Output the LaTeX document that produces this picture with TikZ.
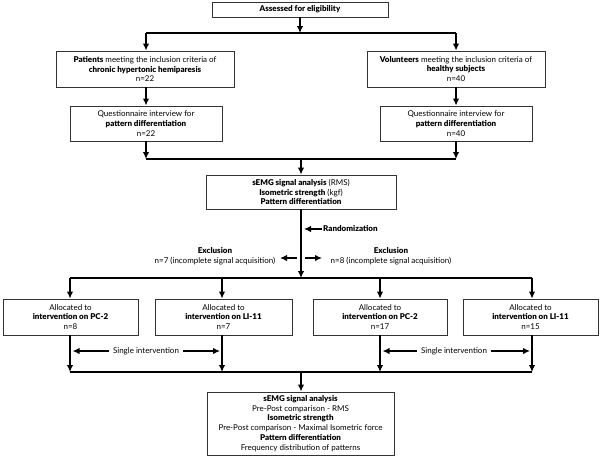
\documentclass[tikz,border=0pt]{standalone}
\usepackage{fontspec}
\setmainfont{Lato}[BoldFont={Lato Black}]
\usetikzlibrary{arrows.meta}
\begin{document}
\begin{tikzpicture}[x=1pt,y=-1pt,
  box/.style={draw=black!80,line width=0.8pt,align=center,inner sep=0pt,
    font=\fontsize{8}{9.7}\selectfont},
  conn/.style={line width=1.7pt},
  arr/.style={line width=1.7pt,-{Latex[length=7pt,width=6.5pt]}},
  lbl/.style={align=center,inner sep=1pt,font=\fontsize{8}{9.7}\selectfont}]
\useasboundingbox (0,0) rectangle (600,456);
\fill[white] (0,0) rectangle (600,456);
% boxes
\node[box,minimum width=176pt,minimum height=15pt] (top) at (300,9.5) {\textbf{Assessed for eligibility}};
\node[box,minimum width=178pt,minimum height=36pt] (pat) at (145,69) {\textbf{Patients} meeting the inclusion criteria of\\\textbf{chronic hypertonic hemiparesis}\\n=22};
\node[box,minimum width=178pt,minimum height=36pt] (vol) at (456,69) {\textbf{Volunteers} meeting the inclusion criteria of\\\textbf{healthy subjects}\\n=40};
\node[box,minimum width=152pt,minimum height=35pt] (q1) at (146,123.5) {Questionnaire interview for\\\textbf{pattern differentiation}\\n=22};
\node[box,minimum width=152pt,minimum height=35pt] (q2) at (456,123.5) {Questionnaire interview for\\\textbf{pattern differentiation}\\n=40};
\node[box,minimum width=190pt,minimum height=34pt] (semg) at (301,192) {\textbf{sEMG signal analysis} (RMS)\\\textbf{Isometric strength} (kgf)\\\textbf{Pattern differentiation}};
\node[box,minimum width=135pt,minimum height=36pt] (b1) at (70.5,317) {Allocated to\\\textbf{intervention on PC-2}\\n=8};
\node[box,minimum width=137pt,minimum height=36pt] (b2) at (223.5,317) {Allocated to\\\textbf{intervention on LI-11}\\n=7};
\node[box,minimum width=134pt,minimum height=36pt] (b3) at (380,317) {Allocated to\\\textbf{intervention on PC-2}\\n=17};
\node[box,minimum width=135pt,minimum height=36pt] (b4) at (530.5,317) {Allocated to\\\textbf{intervention on LI-11}\\n=15};
\node[box,minimum width=187pt,minimum height=63pt] (fin) at (300.5,423.5) {\textbf{sEMG signal analysis}\\Pre-Post comparison - RMS\\\textbf{Isometric strength}\\Pre-Post comparison - Maximal Isometric force\\\textbf{Pattern differentiation}\\Frequency distribution of patterns};
% junction coordinates
\coordinate (j1) at (300,33);
\coordinate (j1l) at (146,33);
\coordinate (j1r) at (456,33);
\coordinate (j2l) at (146,159);
\coordinate (j2r) at (456,159);
\coordinate (j2c) at (301,159);
\coordinate (j3c) at (301,278);
\coordinate (j3a) at (70,278);
\coordinate (j3b) at (222,278);
\coordinate (j3d) at (380,278);
\coordinate (j3e) at (532,278);
\coordinate (j4a) at (70,372);
\coordinate (j4b) at (222,372);
\coordinate (j4d) at (380,372);
\coordinate (j4e) at (532,372);
\coordinate (j4c) at (301,372);
% top part
\draw[arr] (top.south) -- (j1);
\draw[conn] (j1l) -- (j1r);
\draw[arr] (j1l) -- (pat.north -| j1l);
\draw[arr] (j1r) -- (vol.north -| j1r);
\draw[arr] (pat.south -| j1l) -- (q1.north -| j1l);
\draw[arr] (vol.south -| j1r) -- (q2.north -| j1r);
\draw[arr] (q1.south -| j2l) -- (j2l);
\draw[arr] (q2.south -| j2r) -- (j2r);
\draw[conn] (j2l) -- (j2r);
\draw[arr] (j2c) -- (semg.north -| j2c);
% randomization
\draw[arr] (semg.south -| j3c) -- (j3c);
\node[lbl,anchor=west] (rand) at (322,229) {\textbf{Randomization}};
\draw[arr] (rand.west) -- (304,229);
\coordinate (exl) at (297,258);
\coordinate (exr) at (305,258);
\draw[arr] (exl) -- (280,258);
\draw[arr] (exr) -- (322,258);
\node[lbl] (exla) at (215,256) {\textbf{Exclusion}\\n=7 (incomplete signal acquisition)};
\node[lbl] (exra) at (391,256) {\textbf{Exclusion}\\n=8 (incomplete signal acquisition)};
% allocation
\draw[conn] (j3a) -- (j3e);
\draw[arr] (j3a) -- (b1.north -| j3a);
\draw[arr] (j3b) -- (b2.north -| j3b);
\draw[arr] (j3d) -- (b3.north -| j3d);
\draw[arr] (j3e) -- (b4.north -| j3e);
\draw[arr] (b1.south -| j4a) -- (j4a);
\draw[arr] (b2.south -| j4b) -- (j4b);
\draw[arr] (b3.south -| j4d) -- (j4d);
\draw[arr] (b4.south -| j4e) -- (j4e);
\draw[conn] (j4a) -- (j4e);
\draw[arr] (j4c) -- (fin.north -| j4c);
% single intervention
\node[lbl,inner sep=4pt] (si1) at (146,351) {Single intervention};
\node[lbl,inner sep=4pt] (si2) at (454,351) {Single intervention};
\draw[arr] (si1.west) -- (72.5,351);
\draw[arr] (si1.east) -- (220,351);
\draw[arr] (si2.west) -- (382.5,351);
\draw[arr] (si2.east) -- (530,351);
\end{tikzpicture}
\end{document}
